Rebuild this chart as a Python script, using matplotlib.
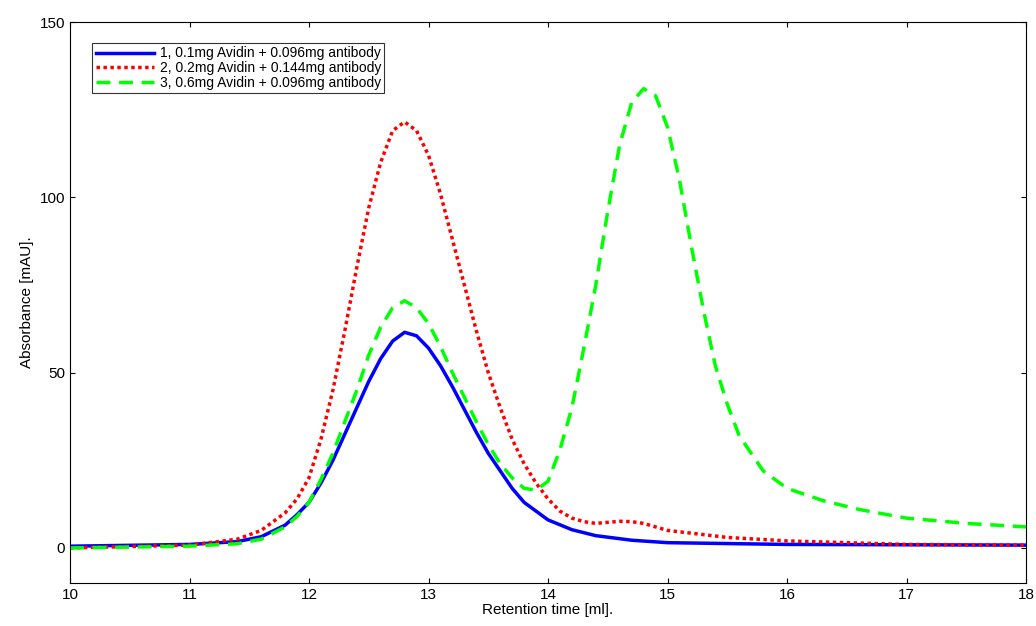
import matplotlib
matplotlib.use("Agg")
import matplotlib.pyplot as plt

plt.rcParams['font.family'] = ['Liberation Sans', 'DejaVu Sans']

# values
x1 = [10, 11, 11.4, 11.6, 11.8, 11.9, 12, 12.1, 12.2, 12.3, 12.4, 12.5, 12.6, 12.7, 12.8, 12.9, 13.0,
      13.1, 13.2, 13.3, 13.4, 13.5, 13.6, 13.7, 13.8, 13.9, 14.0, 14.2, 14.4, 14.7, 15, 16, 18]
y1 = [0.5, 1, 1.8, 3.2, 6.5, 9.5, 13, 18.5, 25, 32.5, 40, 47.5, 54, 59, 61.5, 60.5, 57,
      52, 46, 39.5, 33, 27, 22, 17, 13, 10.5, 8, 5.2, 3.5, 2.2, 1.5, 1, 0.8]

x2 = [10, 11, 11.4, 11.6, 11.8, 11.9, 12, 12.1, 12.2, 12.3, 12.4, 12.5, 12.6, 12.7, 12.8, 12.9, 13.0,
      13.1, 13.2, 13.3, 13.4, 13.5, 13.6, 13.7, 13.8, 13.9, 14.0, 14.1, 14.2, 14.3, 14.4, 14.5, 14.6,
      14.7, 14.8, 14.9, 15, 15.5, 16, 17, 18]
y2 = [0, 0.8, 2.5, 5, 10, 14, 20, 31, 45, 62, 80, 97, 110, 119, 121.5, 119, 112,
      101, 88, 75, 62, 50, 40, 31, 24, 18.5, 14, 10.5, 8.5, 7.5, 7, 7.3, 7.6,
      7.5, 7, 6, 5, 3, 2, 1, 0.8]

x3 = [10, 11, 11.4, 11.6, 11.8, 11.9, 12, 12.1, 12.2, 12.3, 12.4, 12.5, 12.6, 12.7, 12.8, 12.9, 13.0,
      13.1, 13.2, 13.3, 13.4, 13.5, 13.6, 13.7, 13.8, 13.9, 14.0, 14.1, 14.2, 14.3, 14.4, 14.5, 14.6,
      14.7, 14.8, 14.9, 15.0, 15.1, 15.2, 15.3, 15.4, 15.5, 15.6, 15.8, 16.0, 16.3, 16.6, 17, 17.5, 18]
y3 = [0, 0.5, 1.2, 2.5, 6, 9, 13, 19.5, 27, 36, 45, 55, 63, 68.5, 70.5, 68.5, 64,
      57.5, 50, 43, 36, 29.5, 24, 20, 17, 16.5, 19, 28, 40, 57, 75, 96, 115,
      127, 131, 129, 120, 105, 86, 68, 52, 41, 32, 22, 17, 13.5, 11, 8.5, 7, 6]

labels = ['1, 0.1mg Avidin + 0.096mg antibody',
          '2, 0.2mg Avidin + 0.144mg antibody',
          '3, 0.6mg Avidin + 0.096mg antibody']

fig = plt.figure(figsize=(10.36, 6.26), dpi=100)
ax = fig.add_axes([70/1036, 1-583/626, 956/1036, 561/626])

ax.plot(x1, y1, color='#0000ff', lw=2.5, label=labels[0])
ax.plot(x2, y2, color='#ff0000', lw=2.5, ls=(0, (1, 1)), label=labels[1])
ax.plot(x3, y3, color='#00ff00', lw=2.5, ls=(0, (4, 2.5)), label=labels[2])

ax.set_xlim(10, 18)
ax.set_ylim(-10, 150)
ax.set_xticks(range(10, 19))
ax.set_yticks([0, 50, 100, 150])
ax.tick_params(direction='in', labelsize=11, top=True, right=True)
ax.set_xlabel('Retention time [ml].', fontsize=11, labelpad=1)
ax.set_ylabel('Absorbance [mAU].', fontsize=11)
leg = ax.legend(loc='upper left', fontsize=10, fancybox=False, edgecolor='black',
                borderpad=0.25, labelspacing=0.05, handlelength=4.2, handletextpad=0.4,
                bbox_to_anchor=(0.016, 0.975))
leg.get_frame().set_linewidth(0.8)

fig.savefig('out.png', dpi=100)
